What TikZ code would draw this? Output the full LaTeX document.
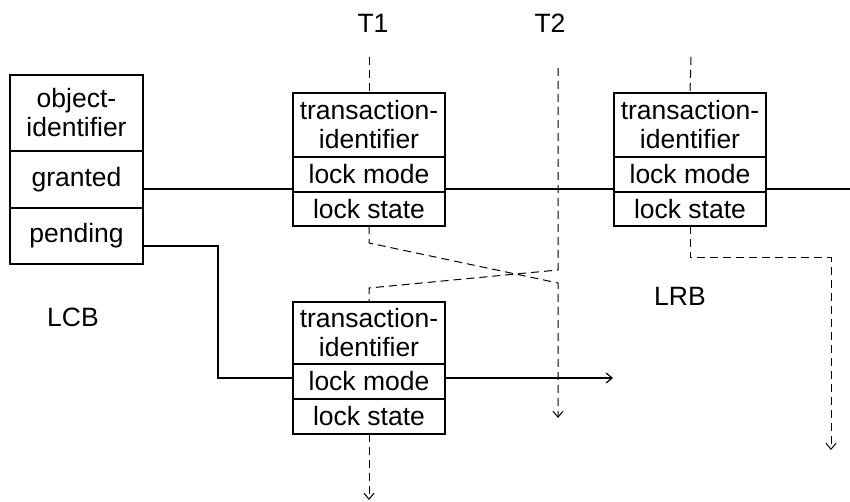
\documentclass[tikz,border=0pt]{standalone}
\usepackage{fontspec}
\setmainfont{Liberation Sans}
\usetikzlibrary{positioning,arrows.meta}

\begin{document}
\begin{tikzpicture}[x=1pt,y=-1pt,line width=1.2pt,
    font=\fontsize{26.5}{29}\selectfont,
    cell/.style={draw,inner sep=0pt,outer sep=0pt,align=center,minimum width=152pt},
    lcbcell/.style={cell,minimum width=133pt},
    thread/.style={dash pattern=on 8pt off 5pt,line width=1pt},
    tip/.style={-{Straight Barb[length=6pt,width=10pt]}}]
    \useasboundingbox (0,0) rectangle (850,502);

    % lock control block
    \node[lcbcell,minimum height=76pt,anchor=north] (lcbid) at (76.5,75) {object-\\identifier};
    \node[lcbcell,minimum height=57pt,below=0pt of lcbid] (lcbgr) {granted};
    \node[lcbcell,minimum height=56pt,below=0pt of lcbgr] (lcbpe) {pending};
    \node (lcb) at (73,317) {LCB};

    % lock request blocks
    \node[cell,minimum height=64pt,anchor=north] (t1id) at (369,93) {transaction-\\identifier};
    \node[cell,minimum height=35pt,below=0pt of t1id] (t1mode) {lock mode};
    \node[cell,minimum height=34pt,below=0pt of t1mode] (t1state) {lock state};

    \node[cell,minimum height=64pt,anchor=north] (r1id) at (690,93) {transaction-\\identifier};
    \node[cell,minimum height=35pt,below=0pt of r1id] (r1mode) {lock mode};
    \node[cell,minimum height=34pt,below=0pt of r1mode] (r1state) {lock state};

    \node[cell,minimum height=62pt,anchor=north] (b2id) at (369,302) {transaction-\\identifier};
    \node[cell,minimum height=35pt,below=0pt of b2id] (b2mode) {lock mode};
    \node[cell,minimum height=35pt,below=0pt of b2mode] (b2state) {lock state};
    \node (lrb) at (680,296) {LRB};

    % transactions
    \node (t1) at (373,23) {T1};
    \node (t2) at (550,23) {T2};

    % free ends
    \coordinate (grend) at (850,189);
    \coordinate (b2end) at (613,378);
    \coordinate (t1top) at (369,57);
    \coordinate (t2top) at (558,68);
    \coordinate (r1top) at (691,57);

    % granted and pending chains
    \draw (lcbgr.east |- grend) -- (t1mode.west |- grend);
    \draw (t1mode.east |- grend) -- (r1mode.west |- grend);
    \draw (r1mode.east |- grend) -- (grend);
    \draw ([yshift=-10pt]lcbpe.east) -- ++(75,0) |- (b2mode.west |- b2end);
    \draw[tip] (b2mode.east |- b2end) -- (b2end);

    % transaction threads
    \draw[thread] (t1top) -- (t1id.north);
    \draw[thread] (r1top) -- (r1id.north);
    \draw[thread,tip] (t1state.south) -- ++(0,17) -- (558,283) -- (558,418);
    \draw[thread] (t2top) -- (558,270) -- (369,288) -- (b2id.north);
    \draw[thread,tip] (b2state.south) -- (369,500);
    \draw[thread,tip] (r1state.south) -- ++(0,32) -| (831,450);
\end{tikzpicture}
\end{document}
